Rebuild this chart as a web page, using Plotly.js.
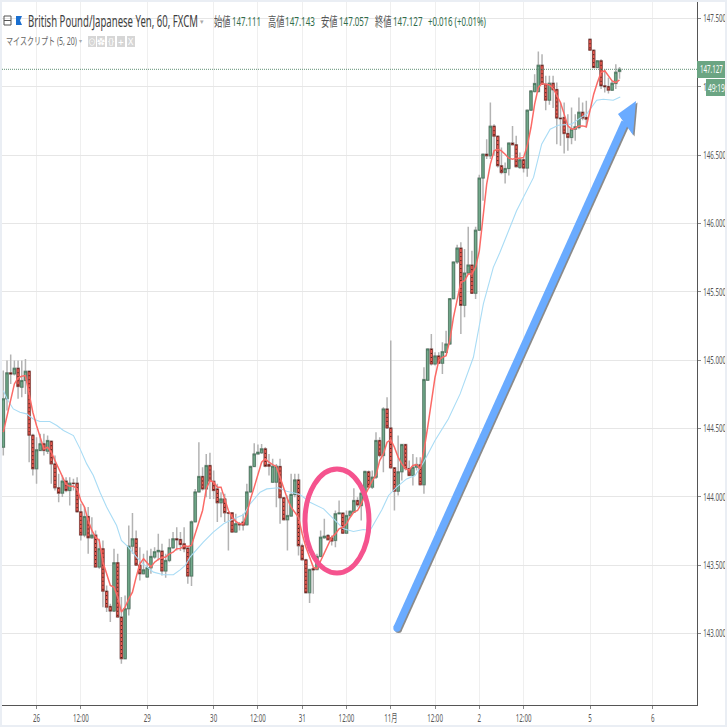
<!DOCTYPE html>
<html><head><meta charset="utf-8">
<script src="https://cdn.plot.ly/plotly-3.0.1.min.js"></script>
<style>html,body{margin:0;padding:0;background:#fff}#g{width:727px;height:727px}
#f{position:absolute;left:0;top:0;width:727px;height:727px;box-sizing:border-box;border:2px solid #eaeef4;pointer-events:none}</style>
</head><body><div id="g"></div><div id="f"></div>
<script>
const opens=[144.362,144.716,144.906,144.898,144.940,144.801,144.850,144.918,144.450,144.204,144.338,144.387,144.333,144.406,144.240,144.065,144.026,144.114,144.045,144.099,144.099,143.889,143.719,143.855,143.699,143.719,143.485,143.619,143.309,143.197,143.163,143.517,143.119,142.815,143.180,143.638,143.692,143.499,143.436,143.412,143.480,143.558,143.597,143.602,143.456,143.534,143.626,143.692,
143.687,143.655,143.624,143.419,143.816,144.035,144.148,144.057,144.228,144.113,144.057,143.955,143.984,143.882,143.882,143.741,143.802,143.814,143.794,144.035,144.221,144.313,144.321,144.350,144.235,144.106,144.106,144.221,143.992,143.831,143.858,144.016,144.123,143.641,143.538,143.297,143.473,143.468,143.563,143.699,143.716,143.699,143.680,143.875,143.880,143.733,143.862,143.887,143.972,143.935,144.026,
144.182,144.070,144.143,144.411,144.301,144.642,144.503,144.211,144.040,144.182,144.381,144.206,144.155,144.216,144.233,144.087,144.852,145.081,144.971,145.030,144.976,145.056,145.117,145.449,145.717,145.819,145.400,145.636,145.695,145.488,
145.950,146.331,146.506,146.494,146.711,146.638,146.421,146.372,146.401,146.587,146.575,146.409,146.465,146.404,146.828,146.964,146.964,147.157,147.018,146.901,147.025,146.979,146.770,146.774,146.657,146.628,146.689,146.701,146.813,146.774,
147.347,147.267,147.140,147.189,147.006,147.001,146.974,147.023,147.111];
const highs=[144.923,144.996,145.040,144.996,144.996,144.996,145.008,144.923,144.460,144.435,144.460,144.460,144.447,144.411,144.301,144.167,144.155,144.143,144.143,144.131,144.143,143.948,143.924,143.924,143.850,143.753,143.692,143.680,143.351,143.217,143.619,143.582,143.266,143.278,143.789,143.880,143.753,143.631,143.582,143.607,143.619,143.631,143.729,143.655,143.582,143.692,143.741,143.777,
143.741,143.777,143.631,143.826,144.057,144.399,144.216,144.313,144.321,144.191,144.094,144.033,144.021,143.887,143.887,143.875,143.814,143.875,144.094,144.228,144.391,144.382,144.386,144.362,144.313,144.277,144.240,144.277,143.996,144.009,144.167,144.167,144.167,143.655,143.546,143.473,143.485,143.582,143.753,143.838,143.728,143.716,143.899,143.972,143.887,143.899,143.899,144.062,143.996,144.057,144.191,
144.191,144.191,144.472,144.435,144.654,144.728,145.142,144.216,144.447,144.386,144.386,144.265,144.313,144.289,144.289,144.947,145.081,145.191,145.056,145.056,145.130,145.215,145.449,145.717,145.844,145.861,145.812,145.975,145.800,145.975,
146.355,146.506,146.616,146.884,146.725,146.638,146.555,146.445,146.589,146.713,146.640,146.519,146.482,146.828,146.969,147.091,147.257,147.237,147.079,147.079,147.079,147.030,146.884,146.884,146.799,146.848,146.799,146.921,146.884,146.896,
147.347,147.267,147.189,147.201,147.128,147.067,147.042,147.164,147.143];
const lows=[144.301,144.630,144.825,144.886,144.716,144.728,144.752,144.252,144.155,144.094,144.338,144.301,144.313,144.094,144.045,143.960,143.997,144.033,143.936,144.045,143.887,143.680,143.704,143.582,143.692,143.485,143.473,143.192,143.156,143.083,143.156,143.119,142.778,142.815,143.131,143.582,143.497,143.387,143.436,143.412,143.436,143.546,143.534,143.424,143.407,143.521,143.619,143.607,
143.602,143.594,143.363,143.346,143.814,144.033,144.045,143.996,143.984,143.984,143.814,143.850,143.814,143.607,143.741,143.741,143.753,143.753,143.789,144.033,144.216,144.313,144.313,144.216,144.155,144.106,143.923,143.802,143.826,143.607,143.862,143.996,143.570,143.533,143.295,143.222,143.290,143.460,143.558,143.692,143.680,143.643,143.631,143.875,143.728,143.728,143.850,143.887,143.923,143.826,144.021,
144.057,144.057,144.130,144.289,144.179,144.496,144.204,143.899,144.009,144.118,144.191,144.155,144.082,144.191,144.087,144.021,144.849,144.959,144.959,144.971,144.898,145.056,145.117,145.444,145.702,145.191,145.312,145.629,145.483,145.446,
145.950,146.165,146.470,146.470,146.494,146.409,146.360,146.292,146.350,146.575,146.409,146.397,146.372,146.341,146.823,146.957,146.957,147.018,146.828,146.867,146.843,146.579,146.567,146.511,146.531,146.579,146.604,146.689,146.755,146.701,
147.267,147.140,147.140,146.982,146.957,146.950,146.969,146.982,147.057];
const closes=[144.716,144.906,144.898,144.940,144.806,144.850,144.918,144.450,144.204,144.343,144.387,144.338,144.411,144.240,144.065,144.026,144.114,144.045,144.099,144.097,143.889,143.719,143.855,143.699,143.719,143.485,143.619,143.309,143.192,143.163,143.517,143.119,142.815,143.180,143.638,143.692,143.499,143.436,143.465,143.480,143.563,143.597,143.607,143.456,143.534,143.626,143.692,143.685,
143.650,143.619,143.419,143.816,144.035,144.148,144.057,144.228,144.113,144.045,143.955,143.984,143.882,143.880,143.741,143.802,143.794,143.792,144.035,144.221,144.313,144.325,144.350,144.223,144.223,144.223,144.223,143.992,143.831,143.862,144.016,144.123,143.641,143.538,143.297,143.468,143.465,143.563,143.704,143.711,143.685,143.675,143.875,143.880,143.733,143.862,143.894,143.972,143.940,144.026,144.184,
144.070,144.143,144.411,144.301,144.642,144.503,144.211,144.040,144.182,144.381,144.206,144.155,144.216,144.235,144.087,144.857,145.081,144.971,145.030,144.976,145.061,145.117,145.449,145.717,145.819,145.400,145.636,145.695,145.488,145.950,
146.331,146.506,146.494,146.711,146.638,146.421,146.372,146.401,146.587,146.575,146.414,146.465,146.404,146.828,146.969,147.023,147.157,147.018,146.901,147.025,146.977,146.770,146.766,146.657,146.628,146.689,146.706,146.813,146.770,146.762,
147.267,147.140,147.189,147.006,147.000,146.974,147.025,147.106,147.127];

const maFast=[144.472,144.594,144.716,144.825,144.869,144.881,144.886,144.752,144.618,144.521,144.435,144.350,144.362,144.326,144.265,144.204,144.155,144.089,144.077,144.077,144.058,143.972,143.924,143.826,143.753,143.704,143.680,143.521,143.436,143.351,143.339,143.265,143.156,143.192,143.253,143.302,143.412,143.509,143.546,143.514,143.485,143.521,143.541,143.553,143.558,143.582,143.594,143.619,
143.621,143.643,143.636,143.643,143.728,143.802,143.899,144.057,144.118,144.106,144.070,144.070,143.984,143.899,143.850,143.819,143.802,143.802,143.875,143.984,144.070,144.167,144.252,144.277,144.252,144.235,144.221,144.143,144.057,143.984,143.923,143.887,143.850,143.728,143.631,143.558,143.485,143.473,143.533,143.594,143.643,143.704,143.728,143.765,143.777,143.802,143.850,143.887,143.899,143.948,144.009,
144.060,144.118,144.155,144.264,144.313,144.399,144.416,144.362,144.289,144.240,144.204,144.196,144.228,144.235,144.204,144.338,144.508,144.679,144.874,144.996,145.020,145.032,145.142,145.312,145.434,145.568,145.580,145.629,145.629,145.678,
145.799,146.067,146.287,146.433,146.530,146.543,146.530,146.506,146.477,146.469,146.477,146.477,146.482,146.567,146.701,146.872,146.994,147.023,147.018,147.013,146.989,146.933,146.884,146.799,146.713,146.689,146.694,146.713,146.713,146.706,
146.835,146.945,147.030,147.103,147.116,147.079,147.042,147.030,147.050];
const maSlowIdx=[0,1,2.7,4.5,6.3,8.1,9.9,12.6,14.5,16.3,19,20.8,22.6,24.4,26.2,28,30.7,32,33.9,36.1,37.9,40.7,43.4,46.1,47.9,49.3,50.6,52.9,54.2,56.9,59.7,62.4,65.1,66.9,69.6,71.4,74.6,76.8,80.4,83.1,86.8,89.5,92.2,94.9,97.6,99.4,102.6,104.4,106.6,109.3,111.6,113.9,117,120.6,123.8,127.4,130.1,132.8,134.6,139.1,141.4,143.7,145.9,148.2,150.4,154,156.3,158.1,160.8,162.6,165.3,167.2];
const maSlow=[144.776,144.716,144.642,144.618,144.606,144.569,144.550,144.550,144.521,144.484,144.447,144.350,144.240,144.155,144.033,143.924,143.789,143.680,143.631,143.558,143.509,143.448,143.429,143.429,143.465,143.497,143.558,143.631,143.667,143.741,143.802,143.838,143.867,143.948,144.033,144.057,144.065,144.040,144.016,143.960,143.911,143.838,143.765,143.745,143.760,143.753,143.904,144.009,144.070,144.130,144.155,144.252,144.411,144.569,144.752,145.020,145.410,145.678,145.788,146.092,146.214,146.336,146.579,146.689,146.718,146.726,146.770,146.799,146.901,146.908,146.901,146.925];

const xTickVals=[9,21,39,57,69,81,93,105,117,129,141,159,176];
const xTickText=['26','12:00','29','30','12:00','31','12:00','11月','12:00','2','12:00','5','6'];
const yTickVals=[143,143.5,144,144.5,145,145.5,146,146.5,147,147.5];
const lastPrice=147.127;
const idx=opens.map((_,i)=>i);

const W=697,H=705;
const PX=x=>x/W, PY=y=>1-y/H;
const FONT='"Noto Sans","Noto Sans CJK JP",sans-serif';
const bodyHigh=opens.map((o,i)=>Math.max(o,closes[i]));
const bodyLow=opens.map((o,i)=>Math.min(o,closes[i]));
const dx=[],dy=[];
idx.forEach(i=>{if(closes[i]<opens[i]){dx.push(i,i,null);dy.push(opens[i],closes[i],null);}});

const wickLine={line:{color:'#b3b3b3',width:1.5},fillcolor:'rgba(0,0,0,0)'};
const traces=[
 {type:'candlestick',x:idx,open:opens,high:highs,low:lows,close:closes,whiskerwidth:0,
  increasing:wickLine,decreasing:wickLine,hoverinfo:'skip',showlegend:false},
 {type:'candlestick',x:idx,open:opens,high:bodyHigh,low:bodyLow,close:closes,whiskerwidth:0,
  increasing:{line:{color:'#3c6b52',width:0.7},fillcolor:'#74ab8d'},
  decreasing:{line:{color:'#7a2a24',width:0.7},fillcolor:'#f05c52'},hoverinfo:'skip',showlegend:false},
 {type:'scatter',mode:'lines',x:dx,y:dy,line:{color:'#1a1010',width:0.9,dash:'1px,3px'},hoverinfo:'skip',showlegend:false},
 {type:'scatter',mode:'lines',x:maSlowIdx,y:maSlow,line:{color:'#a9dcf5',width:1.1},hoverinfo:'skip',showlegend:false},
 {type:'scatter',mode:'lines',x:idx,y:maFast,line:{color:'#fb6a66',width:1.5},hoverinfo:'skip',showlegend:false}
];

const annWidths=[];
const ann=(text,x,y,size,color,target,extra)=>{annWidths.push(target);return Object.assign({text:text,xref:'paper',yref:'paper',x:PX(x),y:PY(y),xanchor:'left',yanchor:'middle',showarrow:false,font:{family:FONT,size:size,color:color}},extra||{});};
const GR='#2f6b4a';
const C={xanchor:'center'};
const annotations=[
 ann('British Pound/Japanese Yen, 60, FXCM',26,21,15.5,'#3d3d3d',170),
 ann('▾',198,21,7,'#aaaaaa',null),
 ann('始値',212,21,13,'#555555',16.5),ann('147.111',230,21,13,GR,29),
 ann('高値',265.5,21,13,'#555555',16.5),ann('147.143',283,21,13,GR,30),
 ann('安値',319,21,13,'#555555',16.5),ann('147.057',337,21,13,GR,29.5),
 ann('終値',373,21,13,'#555555',16.5),ann('147.127',391,21,13,GR,29.5),
 ann('+0.016 (+0.01%)',426,21,13,GR,58),
 ann('マイスクリプト (5, 20)',4,41,10.5,'#666666',71),
 ann('▾',77,41,6,'#aaaaaa',null),
 ann('⊙',92,41.5,8,'#ffffff',null,C),ann('✿',101,41.5,8,'#ffffff',null,C),
 ann('{}',111,41.5,8,'#ffffff',null,C),ann('+',121,41.5,10,'#ffffff',null,C),
 ann('X',131,41.5,9,'#ffffff',null,C),
 ann('147.127',711,69.5,10.5,'#ffffff',23,C),
 ann('49:19',716,87.5,10.5,'#ffffff',17,C)
];

const rect=(x0,y0,x1,y1,c)=>({type:'rect',xref:'paper',yref:'paper',x0:PX(x0),x1:PX(x1),y0:PY(y0),y1:PY(y1),fillcolor:c,line:{width:0},layer:'above'});
const poly=(pts,c)=>({type:'path',xref:'paper',yref:'paper',path:'M'+pts.map(p=>PX(p[0])+','+PY(p[1])).join(' L')+' Z',fillcolor:c,line:{width:0},layer:'above'});
const seg=(a,b,c,w)=>({type:'line',xref:'paper',yref:'paper',x0:PX(a[0]),y0:PY(a[1]),x1:PX(b[0]),y1:PY(b[1]),line:{color:c,width:w},layer:'above'});
const dot=(x,y,r,c)=>({type:'circle',xref:'paper',yref:'paper',x0:PX(x-r),x1:PX(x+r),y0:PY(y-r),y1:PY(y+r),fillcolor:c,line:{width:0},layer:'above'});
const shapes=[
 {type:'line',xref:'paper',yref:'y',x0:0,x1:1,y0:lastPrice,y1:lastPrice,line:{color:'#5f8f74',width:1,dash:'1px,1px'},layer:'above'},
 rect(697,61,725,78,'#6ba583'),rect(706,79,726,96,'#6ba583'),
 rect(88,36,96,47,'#d6d6d6'),rect(97,36,105,47,'#d6d6d6'),rect(107,36,115,47,'#d6d6d6'),rect(117,36,125,47,'#d6d6d6'),rect(127,36,135,47,'#d6d6d6'),
 seg([4,20.5],[11,20.5],'#555',1),
 {type:'rect',xref:'paper',yref:'paper',x0:PX(4),x1:PX(11),y0:PY(16),y1:PY(25),line:{color:'#555',width:1},layer:'above'},
 poly([[16,16],[22,16],[20,20.5],[22,25],[16,25]],'#1a6fd0'),
 {type:'circle',xref:'paper',yref:'paper',x0:PX(305),x1:PX(369),y0:PY(469),y1:PY(573),line:{color:'#f5538e',width:5},layer:'above'},
 seg([398.5,629.5],[626.5,123.5],'#8a8a8a',7),
 dot(398.5,629.5,3.5,'#8a8a8a'),
 poly([[619.5,115.5],[637.5,102.5],[634.5,136.5]],'#8a8a8a'),
 seg([397,628],[625,122],'#6aabff',7.5),
 dot(397,628,3.7,'#6aabff'),
 poly([[618,114],[636,101],[633,135]],'#6aabff')
];

// squeeze a text horizontally around its anchor: the reference's lettering is condensed
function squeeze(t,target,factor,anchor){
 const b=t.getBBox(); if(!b.width) return;
 const s=target?target/b.width:factor;
 const a=anchor==='left'?b.x:b.x+b.width/2;
 const e=t.getAttribute('transform')||'';
 t.setAttribute('transform',e+' translate('+a+',0) scale('+s+',1) translate('+(-a)+',0)');
}

Plotly.newPlot('g',traces,{
 width:727,height:727,margin:{l:0,r:30,t:0,b:22,pad:0},boxgap:0.1,
 paper_bgcolor:'#ffffff',plot_bgcolor:'#ffffff',showlegend:false,hovermode:false,
 xaxis:{type:'linear',range:[-0.9,188],tickmode:'array',tickvals:xTickVals,ticktext:xTickText,showgrid:true,gridcolor:'#efefef',gridwidth:1,
  zeroline:false,showline:true,linecolor:'#555555',linewidth:1,ticks:'outside',ticklen:3,tickcolor:'#888888',
  tickfont:{family:FONT,size:11,color:'#555555'},rangeslider:{visible:false},fixedrange:true},
 yaxis:{side:'right',range:[142.476,147.634],tickmode:'array',tickvals:yTickVals,tickformat:'.3f',showgrid:true,gridcolor:'#e6e6e6',gridwidth:1,
  zeroline:false,showline:true,linecolor:'#555555',linewidth:1,ticks:'outside',ticklen:3,tickcolor:'#888888',
  tickfont:{family:FONT,size:11,color:'#555555'},fixedrange:true},
 annotations:annotations,shapes:shapes
},{staticPlot:true}).then(gd=>{
 gd.querySelectorAll('.annotation').forEach(el=>{
  const i=+el.getAttribute('data-index'); const t=el.querySelector('text');
  if(t&&annWidths[i]) squeeze(t,annWidths[i],null,annotations[i].xanchor==='center'?'center':'left');
 });
 gd.querySelectorAll('.xtick text').forEach(t=>squeeze(t,null,0.56,'center'));
 gd.querySelectorAll('.ytick text').forEach(t=>squeeze(t,null,0.56,'left'));
});
</script></body></html>
